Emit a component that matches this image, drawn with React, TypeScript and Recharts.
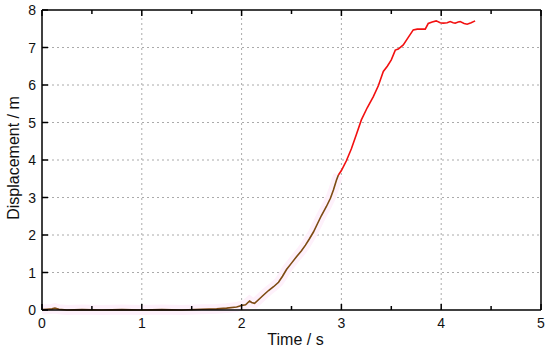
import { LineChart, Line, XAxis, YAxis, ReferenceLine, Label } from "recharts"

// brown part of the trace (start up to ~3 s)
const brownTime = [0, 0.05, 0.1, 0.13, 0.17, 0.25, 0.4, 0.6, 0.8, 1.0, 1.2, 1.4, 1.6, 1.75, 1.85, 1.95, 2.0, 2.04, 2.08, 2.1, 2.13, 2.18, 2.22, 2.27, 2.32, 2.37, 2.41, 2.45, 2.5, 2.55, 2.6, 2.64, 2.68, 2.72, 2.76, 2.8, 2.85, 2.89, 2.92, 2.95, 2.97]
const brownDisp = [0.01, 0.02, 0.03, 0.05, 0.02, 0.0, 0.01, 0.0, 0.01, 0.0, 0.01, 0.0, 0.02, 0.03, 0.05, 0.08, 0.12, 0.14, 0.24, 0.2, 0.18, 0.3, 0.4, 0.52, 0.62, 0.74, 0.9, 1.08, 1.25, 1.42, 1.58, 1.73, 1.9, 2.08, 2.3, 2.52, 2.76, 2.98, 3.2, 3.46, 3.6]

// red part of the trace
const redTime = [2.97, 3.0, 3.05, 3.1, 3.15, 3.2, 3.26, 3.32, 3.37, 3.42, 3.46, 3.5, 3.54, 3.57, 3.62, 3.67, 3.72, 3.76, 3.84, 3.87, 3.91, 3.95, 3.99, 4.02, 4.06, 4.09, 4.12, 4.14, 4.17, 4.19, 4.23, 4.26, 4.3, 4.34]
const redDisp = [3.6, 3.72, 3.98, 4.3, 4.68, 5.07, 5.4, 5.69, 5.98, 6.36, 6.5, 6.67, 6.93, 6.96, 7.07, 7.27, 7.47, 7.49, 7.49, 7.64, 7.68, 7.71, 7.66, 7.65, 7.66, 7.69, 7.66, 7.65, 7.68, 7.69, 7.64, 7.62, 7.66, 7.71]

const xTicks = [0, 0.5, 1, 1.5, 2, 2.5, 3, 3.5, 4, 4.5, 5]
const yTicks = [0, 1, 2, 3, 4, 5, 6, 7, 8]
const xGrid = [1, 2, 3, 4]
const yGrid = [1, 2, 3, 4, 5, 6, 7]

const data = [
  ...brownTime.map((t, i) => ({ t, brown: brownDisp[i] })),
  ...redTime.map((t, i) => ({ t, red: redDisp[i] })),
]

const font = "'Liberation Sans', Arial, sans-serif"

function BottomTick({ x, y, payload }: any) {
  const major = Number.isInteger(payload.value)
  return (
    <g>
      <line x1={x} x2={x} y1={y} y2={y - (major ? 6 : 4)} stroke="#000" strokeWidth={1.5} />
      {major && (
        <text x={x} y={y + 18} textAnchor="middle" fontSize={14} fill="#111" fontFamily={font}>
          {payload.value}
        </text>
      )}
    </g>
  )
}

function TopTick({ x, y, payload }: any) {
  const major = Number.isInteger(payload.value)
  return <line x1={x} x2={x} y1={y} y2={y + (major ? 6 : 4)} stroke="#000" strokeWidth={1.5} />
}

function LeftTick({ x, y, payload }: any) {
  return (
    <g>
      <line x1={x} x2={x + 6} y1={y} y2={y} stroke="#000" strokeWidth={1.5} />
      <text x={x - 6} y={y + 5} textAnchor="end" fontSize={14} fill="#111" fontFamily={font}>
        {payload.value}
      </text>
    </g>
  )
}

function RightTick({ x, y }: any) {
  return <line x1={x} x2={x - 6} y1={y} y2={y} stroke="#000" strokeWidth={1.5} />
}

export default function App() {
  return (
    <div style={{ position: "absolute", left: 0, top: 0, width: 550, height: 351, background: "#fff" }}>
      <LineChart width={550} height={351} data={data} margin={{ top: 9, right: 8, bottom: 40, left: 41 }}>
        <XAxis
          dataKey="t"
          type="number"
          domain={[0, 5]}
          ticks={xTicks}
          height={1}
          tickSize={0}
          tickMargin={0}
          tick={<BottomTick />}
          axisLine={{ stroke: "#000", strokeWidth: 1.5 }}
          tickLine={false}
          interval={0}
        >
          <Label
            content={({ viewBox }: any) => (
              <text x={viewBox.x + viewBox.width / 2 + 4} y={viewBox.y + 35} textAnchor="middle" fontSize={16} fill="#111" fontFamily={font}>
                Time / s
              </text>
            )}
          />
        </XAxis>
        <XAxis
          xAxisId="top"
          orientation="top"
          dataKey="t"
          type="number"
          domain={[0, 5]}
          ticks={xTicks}
          height={1}
          tickSize={0}
          tickMargin={0}
          tick={<TopTick />}
          axisLine={{ stroke: "#000", strokeWidth: 1.5 }}
          tickLine={false}
          interval={0}
        />
        <YAxis
          domain={[0, 8]}
          ticks={yTicks}
          width={1}
          tickSize={0}
          tickMargin={0}
          tick={<LeftTick />}
          axisLine={{ stroke: "#000", strokeWidth: 1.5 }}
          tickLine={false}
          interval={0}
        >
          <Label
            content={({ viewBox }: any) => {
              const cx = 19
              const cy = viewBox.y + viewBox.height / 2 - 2
              return (
                <text x={cx} y={cy} transform={`rotate(-90 ${cx} ${cy})`} textAnchor="middle" fontSize={16} fill="#111" fontFamily={font}>
                  Displacement / m
                </text>
              )
            }}
          />
        </YAxis>
        <YAxis
          yAxisId="right"
          orientation="right"
          domain={[0, 8]}
          ticks={yTicks}
          width={1}
          tickSize={0}
          tickMargin={0}
          tick={<RightTick />}
          axisLine={{ stroke: "#000", strokeWidth: 1.5 }}
          tickLine={false}
          interval={0}
        />
        {xGrid.map((v) => (
          <ReferenceLine key={"x" + v} x={v} stroke="#aaa" strokeDasharray="2 3" />
        ))}
        {yGrid.map((v) => (
          <ReferenceLine key={"y" + v} y={v} stroke="#aaa" strokeDasharray="2 3" />
        ))}
        <Line dataKey="brown" stroke="#fef1fb" strokeWidth={10} dot={false} isAnimationActive={false} connectNulls={false} />
        <Line dataKey="brown" stroke="#7d4a12" strokeWidth={1.6} dot={false} isAnimationActive={false} connectNulls={false} />
        <Line dataKey="red" stroke="#f21010" strokeWidth={1.6} dot={false} isAnimationActive={false} connectNulls={false} />
      </LineChart>
    </div>
  )
}
